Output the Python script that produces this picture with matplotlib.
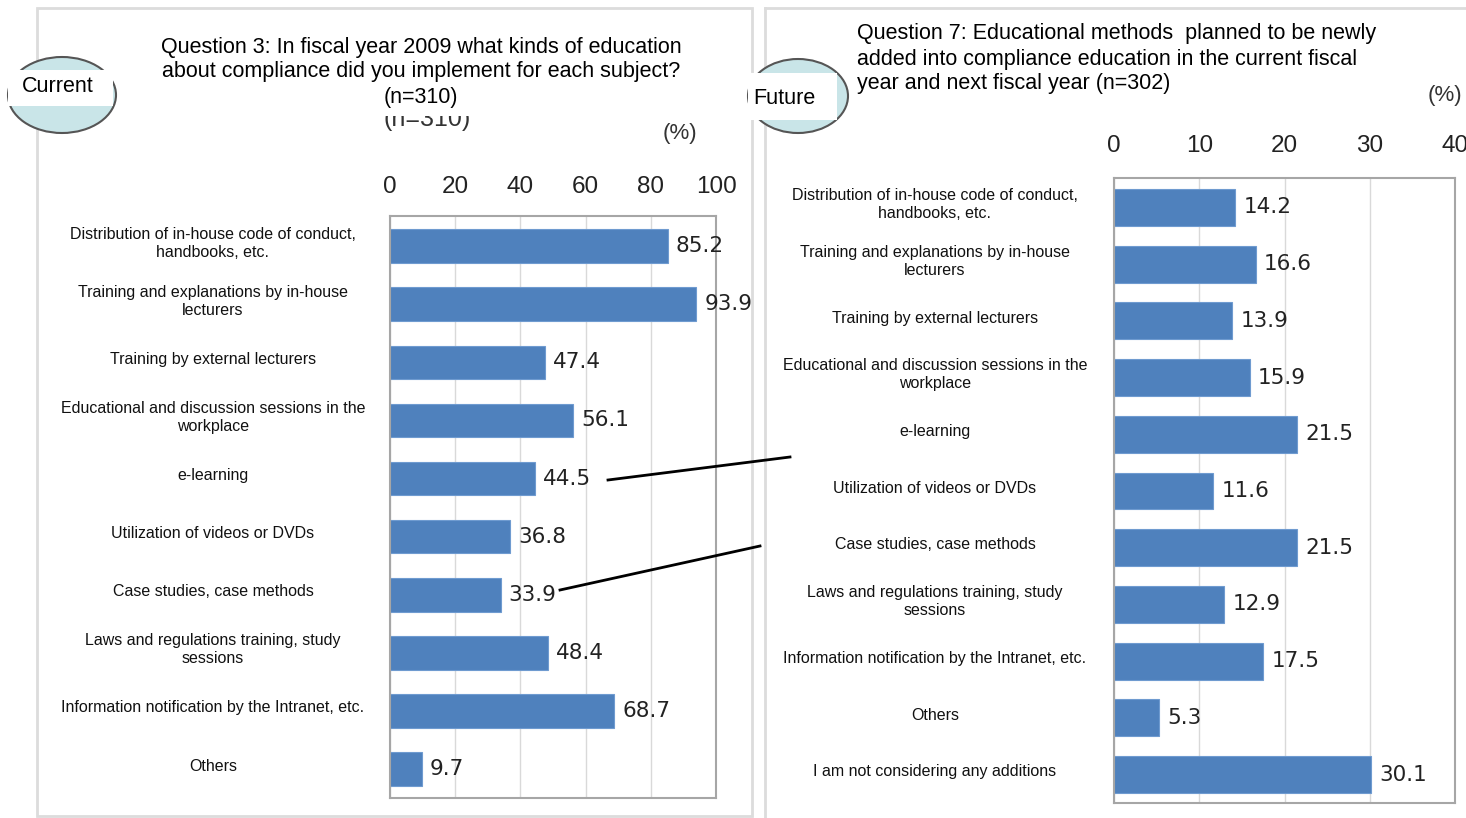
import matplotlib
matplotlib.use("Agg")
from matplotlib import pyplot as plt
from matplotlib.patches import Ellipse, Rectangle
from matplotlib.lines import Line2D
from matplotlib.transforms import blended_transform_factory

# data
cur_labels = ["Distribution of in-house code of conduct,\nhandbooks, etc.",
              "Training and explanations by in-house\nlecturers",
              "Training by external lecturers",
              "Educational and discussion sessions in the\nworkplace",
              "e-learning",
              "Utilization of videos or DVDs",
              "Case studies, case methods",
              "Laws and regulations training, study\nsessions",
              "Information notification by the Intranet, etc.",
              "Others"]
cur_values = [85.2, 93.9, 47.4, 56.1, 44.5, 36.8, 33.9, 48.4, 68.7, 9.7]
cur_ticks = [0, 20, 40, 60, 80, 100]

fut_labels = ["Distribution of in-house code of conduct,\nhandbooks, etc.",
              "Training and explanations by in-house\nlecturers",
              "Training by external lecturers",
              "Educational and discussion sessions in the\nworkplace",
              "e-learning",
              "Utilization of videos or DVDs",
              "Case studies, case methods",
              "Laws and regulations training, study\nsessions",
              "Information notification by the Intranet, etc.",
              "Others",
              "I am not considering any additions"]
fut_values = [14.2, 16.6, 13.9, 15.9, 21.5, 11.6, 21.5, 12.9, 17.5, 5.3, 30.1]
fut_ticks = [0, 10, 20, 30, 40]

W, H = 1466, 818
BAR = "#4f81bd"
GRID = "#d9d9d9"
FRAME = "#a6a6a6"
plt.rcParams['font.family'] = ["Liberation Sans", "DejaVu Sans"]

fig = plt.figure(figsize=(W / 100, H / 100), dpi=100)


def fx(x):
    return x / W


def fy(y):
    return 1 - y / H


def px_axes(x0, y0, x1, y1):
    return fig.add_axes([fx(x0), fy(y1), (x1 - x0) / W, (y1 - y0) / H])


# panel frames
fig.patches.append(Rectangle((fx(37), fy(816)), (752 - 37) / W, (816 - 8) / H,
                             transform=fig.transFigure, fill=False,
                             edgecolor="#dcdcdc", lw=2, zorder=0))
fig.lines.append(Line2D([fx(765), fx(1466)], [fy(8), fy(8)], transform=fig.transFigure,
                        color="#dcdcdc", lw=2, zorder=0))
fig.lines.append(Line2D([fx(765), fx(765)], [fy(8), fy(818)], transform=fig.transFigure,
                        color="#dcdcdc", lw=2, zorder=0))


def bar_panel(box, labels, values, ticks, xmax, lab_x, pad_top, bh):
    ax = px_axes(*box)
    n = len(values)
    ypos = list(range(n))
    ax.barh(ypos, values, height=bh, color=BAR, edgecolor="#6f9bd0", lw=0.8, zorder=2)
    ax.set_xlim(0, xmax)
    ax.set_ylim(n - 0.5, -0.52)
    ax.set_xticks(ticks)
    ax.xaxis.tick_top()
    ax.tick_params(axis="x", length=0, pad=pad_top, labelsize=17.5, colors="#222222")
    ax.set_yticks([])
    ax.grid(axis="x", color=GRID, lw=1, zorder=0)
    for s in ax.spines.values():
        s.set_color(FRAME)
        s.set_linewidth(1.5)
    off = xmax * 0.025
    for y, v in zip(ypos, values):
        ax.text(v + off, y, f"{v:.1f}", va="center", ha="left", fontsize=15.5,
                color="#222222", family="DejaVu Sans", zorder=3)
    tr = blended_transform_factory(fig.transFigure, ax.transData)
    for y, lab in zip(ypos, labels):
        ax.text(fx(lab_x), y - 0.05, lab, transform=tr, ha="center", va="center",
                fontsize=11.5, color="#111111", linespacing=1.25, clip_on=False)
    return ax


bar_panel((390, 216, 716, 798), cur_labels, cur_values, cur_ticks, 100, 213, 13, 0.58)
bar_panel((1114, 178, 1455, 803), fut_labels, fut_values, fut_ticks, 40, 935, 15, 0.65)

# "(%)" units
fig.text(fx(680), fy(134), "(%)", ha="center", va="center", fontsize=16, color="#333333")
fig.text(fx(1445), fy(96), "(%)", ha="center", va="center", fontsize=16, color="#333333")

# half hidden old subtitle under the pasted title
fig.text(fx(427), fy(119), "(n=310)", ha="center", va="center", fontsize=18,
         color="#333333", zorder=1)
fig.patches.append(Rectangle((fx(150), fy(116)), 560 / W, 100 / H,
                             transform=fig.transFigure, facecolor="white",
                             edgecolor="none", zorder=2))

# titles
fig.text(fx(421), fy(72), "Question 3: In fiscal year 2009 what kinds of education\n"
         "about compliance did you implement for each subject?\n(n=310)",
         ha="center", va="center", fontsize=15.5, linespacing=1.25, zorder=3)
fig.text(fx(857), fy(59), "Question 7: Educational methods  planned to be newly\n"
         "added into compliance education in the current fiscal\n"
         "year and next fiscal year (n=302)",
         ha="left", va="center", fontsize=15.5, linespacing=1.25, zorder=3)

# Current / Future badges
for cx, cy, w, h, bx0, by0, bx1, by1, tx, ty, txt in [
        (62, 95, 108, 76, 8, 70, 113, 106, 58, 87, "Current"),
        (798, 96, 100, 74, 748, 73, 837, 120, 784, 98, "Future")]:
    fig.patches.append(Ellipse((fx(cx), fy(cy)), w / W, h / H, transform=fig.transFigure,
                               facecolor="#c9e5e8", edgecolor="#555555", lw=1.5, zorder=4))
    fig.patches.append(Rectangle((fx(bx0), fy(by1)), (bx1 - bx0) / W, (by1 - by0) / H,
                                 transform=fig.transFigure, facecolor="white",
                                 edgecolor="none", zorder=5))
    fig.text(fx(tx), fy(ty), txt, ha="center", va="center", fontsize=15.5, zorder=6)

# connector lines between the panels
for x0, y0, x1, y1 in [(608, 480, 790, 457), (560, 590, 760, 546)]:
    fig.lines.append(Line2D([fx(x0), fx(x1)], [fy(y0), fy(y1)], transform=fig.transFigure,
                            color="black", lw=2, zorder=6))

fig.savefig("out.png", dpi=100)
